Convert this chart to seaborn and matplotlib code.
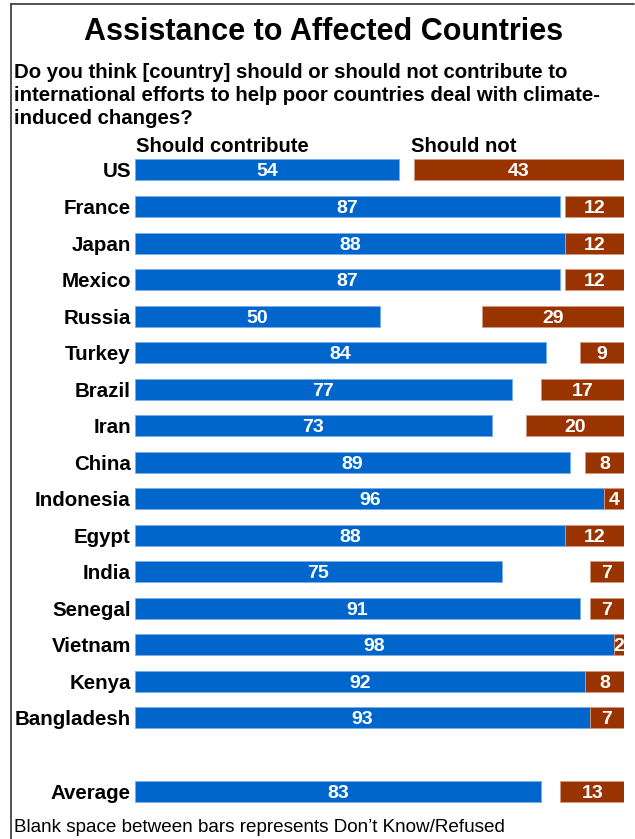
import matplotlib
matplotlib.use("Agg")
import matplotlib.pyplot as plt
from matplotlib.lines import Line2D
import numpy as np
import pandas as pd
import seaborn as sns

# Survey results (percent)
countries = ["US", "France", "Japan", "Mexico", "Russia", "Turkey", "Brazil",
             "Iran", "China", "Indonesia", "Egypt", "India", "Senegal",
             "Vietnam", "Kenya", "Bangladesh"]
contribute = [54, 87, 88, 87, 50, 84, 77, 73, 89, 96, 88, 75, 91, 98, 92, 93]
should_not = [43, 12, 12, 12, 29, 9, 17, 20, 8, 4, 12, 7, 7, 2, 8, 7]
average_label = "Average"
average_contribute = 83
average_should_not = 13

title = "Assistance to Affected Countries"
question = ["Do you think [country] should or should not contribute to",
            "international efforts to help poor countries deal with climate-",
            "induced changes?"]
header_yes = "Should contribute"
header_no = "Should not"
footnote = "Blank space between bars represents Don\u2019t Know/Refused"

sns.set_theme(style="white")
plt.rcParams["font.family"] = ["Liberation Sans", "DejaVu Sans"]
plt.rcParams["text.color"] = "black"
plt.rcParams["ytick.color"] = "black"

BLUE = "#0066CC"
RED = "#993300"

labels = countries + [average_label]
# one empty row separates the average from the country rows
rows = list(np.arange(len(countries))) + [len(countries) + 1]
df = pd.DataFrame({
    "label": labels,
    "row": rows,
    "yes": contribute + [average_contribute],
    "no": should_not + [average_should_not],
})

W, H = 635, 839
fig = plt.figure(figsize=(W / 100, H / 100), dpi=100)
fig.patch.set_facecolor("white")
top_px, bot_px = 151.7, 809.3
ax = fig.add_axes([135 / W, 1 - bot_px / H, 489 / W, (bot_px - top_px) / H])

sns.barplot(data=df, x="yes", y="row", orient="y", native_scale=True,
            color=BLUE, saturation=1, width=0.575, errorbar=None,
            edgecolor="#7aaee2", linewidth=0.6, ax=ax)
blue_bars = ax.containers[-1]

sns.barplot(data=df, x="no", y="row", orient="y", native_scale=True,
            color=RED, saturation=1, width=0.575, errorbar=None,
            edgecolor="#d49a80", linewidth=0.6, ax=ax)
red_bars = ax.containers[-1]
# "should not" bars are anchored to the right end of the 0-100 scale
for bar in red_bars:
    bar.set_x(100 - bar.get_width())

label_kw = dict(label_type="center", color="white", fontsize=14,
                fontweight="bold", fmt="%d")
for t in ax.bar_label(blue_bars, **label_kw):
    t.set_va("center_baseline")
for t in ax.bar_label(red_bars, **label_kw):
    t.set_va("center_baseline")

ax.set_xlim(0, 100)
ax.set_ylim(len(countries) + 1.5, -0.5)
ax.set_yticks(rows, labels, fontsize=14.8, fontweight="bold", color="black")
ax.tick_params(axis="y", length=0, pad=3)
ax.set_xticks([])
ax.set_xlabel("")
ax.set_ylabel("")
for s in ax.spines.values():
    s.set_visible(False)

def fy(px):
    return 1 - px / H

fig.text(323.5 / W, fy(32), title, ha="center", va="center",
         fontsize=22, fontweight="bold")
for i, line in enumerate(question):
    fig.text(14 / W, fy(73 + 22.5 * i), line, ha="left", va="center",
             fontsize=14.7, fontweight="bold")
fig.text(136 / W, fy(146), header_yes, ha="left", va="center",
         fontsize=14.6, fontweight="bold")
fig.text(411 / W, fy(146), header_no, ha="left", va="center",
         fontsize=14.6, fontweight="bold")
fig.text(14 / W, fy(828), footnote, ha="left", va="center", fontsize=13.6)

# frame on the top and left edges
fig.add_artist(Line2D([10.5 / W, 634 / W], [fy(4), fy(4)], color="#333333",
                      linewidth=1.2, transform=fig.transFigure))
fig.add_artist(Line2D([10.5 / W, 10.5 / W], [fy(4), 0], color="#333333",
                      linewidth=1.2, transform=fig.transFigure))

fig.savefig("out.png", dpi=100)
